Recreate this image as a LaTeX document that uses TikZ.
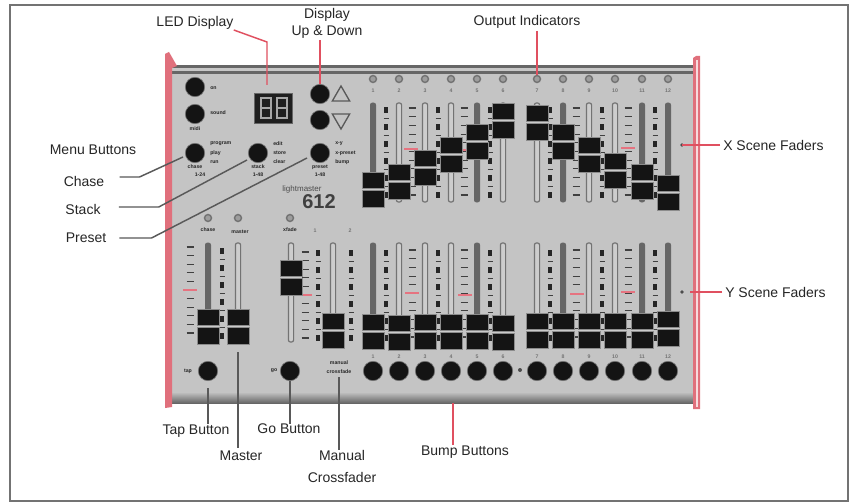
\documentclass[tikz,border=0pt]{standalone}
\usepackage{fontspec}
\setmainfont{Liberation Sans}
\usetikzlibrary{shapes.geometric}
\definecolor{panel}{HTML}{C4C4C4}
\definecolor{rbar}{HTML}{E0707C}
\definecolor{lead}{HTML}{E05060}
\definecolor{ink}{HTML}{262626}
\newcommand{\smalltxt}{\fontsize{3.9}{3.9}\selectfont\bfseries}
\tikzset{
  lbl/.style={font=\fontsize{10.5}{16.5}\selectfont,text=ink,inner sep=0pt,align=center},
  tiny/.style={font=\smalltxt,text=black!85,inner sep=0pt},
  faint/.style={font=\smalltxt,text=black!55,inner sep=0pt},
  knob/.style={circle,fill=black!92,draw=black!55,line width=0.5pt,minimum size=14.5pt,inner sep=0pt},
  ledlamp/.style={circle,draw=black!55,fill=panel!80!black,line width=1.1pt,minimum size=5.2pt,inner sep=0pt},
  redlead/.style={draw=lead,line width=1.1pt},
  greylead/.style={draw=black!65,line width=1.1pt},
  capbox/.style={fill=black!92,draw=black!45,line width=0.3pt},
  capgap/.style={fill=panel!90!white},
  tracklight/.style={fill=panel!85!white,draw=black!55,line width=0.9pt,rounded corners=1.5pt},
  trackdark/.style={fill=black!60,draw=black!60,line width=0.6pt,rounded corners=1.5pt},
  tickmark/.style={draw=black!75,line width=0.8pt},
  redtick/.style={draw=lead!80,line width=1.3pt},
  segm/.style={draw=black!35,line width=1pt},
  x=0.75pt,y=-0.75pt
}
% x, track top, track bottom, cap top, style
\newcommand{\fadr}[5]{%
  \draw[#5] (#1-2.6,#2) rectangle (#1+2.6,#3);
  \fill[capgap] (#1-11,#4+16) rectangle (#1+11,#4+19);
  \draw[capbox] (#1-11,#4) rectangle (#1+11,#4+16.5);
  \draw[capbox] (#1-11,#4+18.5) rectangle (#1+11,#4+35);
}
\newcommand{\dotscale}[3]{% x, top, step
  \foreach \k in {0,...,5}{
    \fill[black!85] (#1-2.4,#2+\k*#3-3) rectangle (#1+2.4,#2+\k*#3+3);
    \ifnum\k<5 \draw[tickmark] (#1-2.5,#2+\k*#3+#3/2) -- (#1+2.5,#2+\k*#3+#3/2);\fi
  }
}
\newcommand{\dashscale}[3]{%
  \foreach \k in {0,...,10}{
    \draw[tickmark] (#1-3.5,#2+\k*#3) -- (#1+3.5,#2+\k*#3);
  }
}
\begin{document}
\begin{tikzpicture}
\useasboundingbox (0,0) rectangle (854,503);
\fill[white] (0,0) rectangle (854,503);
\draw[black!55,line width=1.1pt] (10,5) rectangle (848,501);

% panel
\fill[panel] (172,66) rectangle (693,403);
\shade[top color=panel,bottom color=black!60] (172,392) rectangle (693,403);
\fill[black!60] (170,65) rectangle (693,68);
\fill[black!22] (170,68) rectangle (693,71);
\fill[black!60] (170,71) rectangle (693,74);
% side rails
\fill[rbar] (165,54) -- (169,52) -- (177,66) -- (172,68) -- (172,403) -- (172,407) -- (165,408) -- cycle;
\fill[rbar] (693,58) -- (696,56) -- (700,56) -- (700,409) -- (693,409) -- cycle;
\fill[white!75!rbar] (695.5,60) rectangle (697.5,407);

% scale marks, upper row
\foreach \x in {386,438,490,550,602,655}{\dotscale{\x}{110}{17}}
\foreach \x in {412,464,576,628}{\dashscale{\x}{108}{8.7}}
% scale marks, lower row
\foreach \x in {386,438,490,550,602,655}{\dotscale{\x}{253}{17}}
\foreach \x in {412,464,576,628}{\dashscale{\x}{250}{8.7}}
% scale marks, left block
\dashscale{190}{247}{8.6}
\dotscale{222}{251}{17}
\dashscale{305}{252}{8.6}
\dotscale{318}{253}{17}
\dotscale{351}{253}{17}
% red ticks
\foreach \x/\y in {411/149,465/150,628/148,412/293,465/295,577/294,628/292,190/290,305/295}{
  \draw[redtick] (\x-7,\y) -- (\x+7,\y);
}

% upper faders
\fadr{373}{103}{202}{172}{trackdark}
\fadr{399}{103}{202}{164}{tracklight}
\fadr{425}{103}{202}{150}{tracklight}
\fadr{451}{103}{202}{137}{tracklight}
\fadr{477}{103}{202}{124}{trackdark}
\fadr{503}{103}{202}{103}{tracklight}
\fadr{537}{103}{202}{105}{tracklight}
\fadr{563}{103}{202}{124}{trackdark}
\fadr{589}{103}{202}{137}{tracklight}
\fadr{615}{103}{202}{153}{tracklight}
\fadr{642}{103}{202}{164}{trackdark}
\fadr{668}{103}{202}{175}{trackdark}
% lower faders
\foreach \x/\c/\s in {373/314/trackdark,399/315/tracklight,425/314/tracklight,451/314/tracklight,477/314/trackdark,503/315/tracklight,537/313/tracklight,563/313/trackdark,589/313/tracklight,615/313/tracklight,642/313/trackdark,668/311/trackdark}{
  \fadr{\x}{243}{345}{\c}{\s}
}
% left-hand faders
\fadr{208}{243}{340}{309}{trackdark}
\fadr{238}{243}{340}{309}{tracklight}
\fadr{291}{243}{342}{260}{tracklight}
\fadr{333}{243}{342}{313}{tracklight}

% output indicator lamps and numbers
\foreach \x/\n [count=\i] in {373/1,399/2,425/3,451/4,477/5,503/6,537/7,563/8,589/9,615/10,642/11,668/12}{
  \node[ledlamp] (lamp\i) at (\x,79) {};
  \node[faint] at (\x,91) {\n};
  \node[knob] (bump\i) at (\x,371) {};
  \node[faint] at (\x,357) {\n};
}
\node[ledlamp] (lampA) at (208,218) {};
\node[ledlamp] (lampB) at (238,218) {};
\node[ledlamp] (lampC) at (290,218) {};
\node[tiny] at (208,230) {chase};
\node[tiny] at (240,232) {master};
\node[tiny] at (290,230) {xfade};
\node[faint] at (315,231) {1};
\node[faint] at (350,231) {2};

% menu knobs
\node[knob] (on) at (195,87) {};
\node[knob] (sound) at (195,114) {};
\node[knob] (chase) at (195,153) {};
\node[knob] (stack) at (258,153) {};
\node[knob] (preset) at (320,153) {};
\node[knob] (up) at (320,94) {};
\node[knob] (down) at (320,120) {};
\node[knob] (tap) at (208,371) {};
\node[knob] (go) at (290,371) {};
\node[tiny,anchor=west] at (210,88) {on};
\node[tiny,anchor=west] at (210,113) {sound};
\node[tiny] at (195,129) {midi};
\foreach \y/\t in {144/program,153/play,162/run}{\node[tiny,anchor=west] at (210,\y) {\t};}
\foreach \y/\t in {144/edit,153/store,162/clear}{\node[tiny,anchor=west] at (273,\y) {\t};}
\foreach \y/\t in {144/x-y,153/x-preset,162/bump}{\node[tiny,anchor=west] at (335,\y) {\t};}
\node[tiny] at (195,167) {chase};
\node[tiny] at (258,167) {stack};
\node[tiny] at (320,167) {preset};
\node[tiny] at (200,175) {1-24};
\node[tiny] at (258,175) {1-48};
\node[tiny] at (320,175) {1-48};
\node[tiny] at (188,371) {tap};
\node[tiny] at (274,371) {go};
\node[tiny] at (339,363) {manual};
\node[tiny] at (339,372) {crossfade};
\fill[black!70] (520,370) circle (2);
\fill[black!70] (682,145) circle (1.8);
\fill[black!70] (682,292) circle (1.8);

% triangles
\node[draw=black!65,line width=1pt,regular polygon,regular polygon sides=3,minimum size=15pt,inner sep=0pt] (triup) at (341,96) {};
\node[draw=black!65,line width=1pt,regular polygon,regular polygon sides=3,shape border rotate=180,minimum size=15pt,inner sep=0pt] (tridown) at (341,119) {};

% LED display
\node[fill=black!88,draw=black!60,line width=0.5pt,minimum width=28.5pt,minimum height=22.5pt,inner sep=0pt] (led) at (273,108) {};
\foreach \x in {261,277}{
  \draw[segm,line width=1.1pt] (\x,98) rectangle (\x+10,108);
  \draw[segm,line width=1.1pt] (\x,108) rectangle (\x+10,118);
}

% brand
\node[tiny,font=\fontsize{6}{6}\selectfont,text=black!70] at (302,189) {lightmaster};
\node[inner sep=0pt,font=\fontsize{15}{15}\selectfont\bfseries,text=black!75] (model) at (319,202) {612};

% labels
\node[lbl,font=\fontsize{10.5}{12.75}\selectfont] (tDisp) at (327,23) {Display\\Up \& Down};
\node[lbl] (tLED) at (195,23) {LED Display};
\node[lbl] (tOut) at (527,22) {Output Indicators};
\node[lbl,anchor=west] (tX) at (723,145) {X Scene Faders};
\node[lbl,anchor=west] (tY) at (725,292) {Y Scene Faders};
\node[lbl] (tMenu) at (93,150) {Menu Buttons};
\node[lbl] (tChase) at (84,181) {Chase};
\node[lbl] (tStack) at (83,209) {Stack};
\node[lbl] (tPreset) at (86,238) {Preset};
\node[lbl] (tTap) at (196,431) {Tap Button};
\node[lbl] (tMaster) at (241,456) {Master};
\node[lbl] (tGo) at (289,429) {Go Button};
\node[lbl] (tManual) at (342,466) {Manual\\Crossfader};
\node[lbl] (tBump) at (465,452) {Bump Buttons};

% anchors of leaders
\coordinate (ledend) at (267,85);
\coordinate (masterend) at (238,352);
\coordinate (manualend) at (339,377);
\coordinate (bumpend) at (453,403);
\coordinate (xend) at (682,145);
\coordinate (yend) at (690,292);
\coordinate (chaseend) at (183,157);
\coordinate (stackend) at (247,160);
\coordinate (presetend) at (307,158);

% leaders
\draw[redlead] (tLED.east) ++(0,7) -- (267,42) -- (ledend);
\draw[redlead] (tDisp.south -| up) ++(0,2) -- (up.north);
\draw[redlead] (tOut.south -| lamp7) ++(0,2) -- (lamp7.north);
\draw[redlead] (tX.west) ++(-3,0) -- (xend);
\draw[redlead] (tY.west) ++(-3,0) -- (yend);
\draw[redlead] (bumpend) -- (tBump.north -| bumpend);
\draw[greylead] (tChase.east) ++(15,-4) -- ++(20,0) -- (chaseend);
\draw[greylead] (tStack.east) ++(18,-2) -- ++(40,0) -- (stackend);
\draw[greylead] (tPreset.east) ++(13,0) -- ++(32,0) -- (presetend);
\draw[greylead] (tap.south) ++(0,7) -- (tTap.north -| tap);
\draw[greylead] (masterend) -- (238,448);
\draw[greylead] (go.south) -- (tGo.north -| go);
\draw[greylead] (manualend) -- (tManual.north -| manualend);
\end{tikzpicture}
\end{document}
